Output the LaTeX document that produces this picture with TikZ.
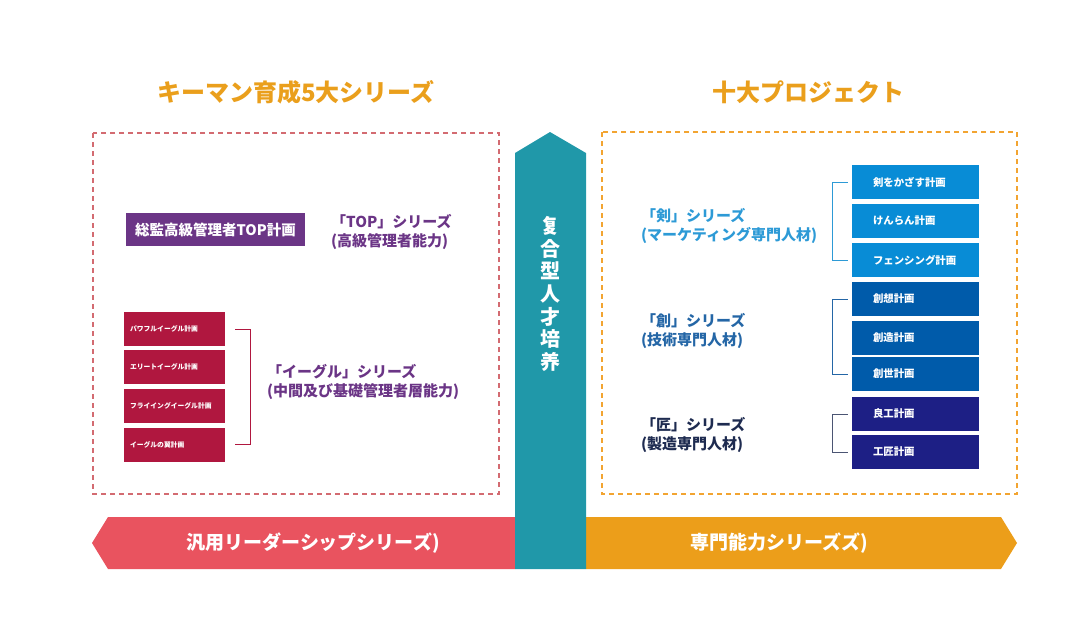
\documentclass[tikz,border=0pt]{standalone}
\usepackage{xcolor}
\usepackage{fontspec}
\setmainfont{Noto Sans CJK JP}
\usetikzlibrary{positioning,calc}

\definecolor{titleorange}{HTML}{EA9F1C}
\definecolor{dashred}{HTML}{D36B71}
\definecolor{dashorange}{HTML}{F2A431}
\definecolor{centerteal}{HTML}{2098A9}
\definecolor{bandred}{HTML}{E9535F}
\definecolor{bandorange}{HTML}{EC9E1A}
\definecolor{toppurple}{HTML}{6B3586}
\definecolor{eaglered}{HTML}{B0173F}
\definecolor{kenblue}{HTML}{088CD6}
\definecolor{kentext}{HTML}{2D9AD6}
\definecolor{soublue}{HTML}{005BAA}
\definecolor{soutext}{HTML}{2466A6}
\definecolor{takuminavy}{HTML}{1D1F85}
\definecolor{takumitext}{HTML}{1E2B50}

\begin{document}
\begin{tikzpicture}[x=1pt,y=-1pt,
    title/.style={font=\fontsize{24}{28}\selectfont\bfseries,text=titleorange},
    serieslabel/.style={anchor=west,inner sep=0pt,align=left,font=\fontsize{15}{19}\selectfont\bfseries},
    eaglebox/.style={fill=eaglered,text=white,minimum height=34pt,text width=89pt,inner xsep=6pt,align=left,font=\fontsize{6.8}{8}\selectfont\bfseries},
    planbox/.style={text=white,minimum height=34pt,text width=85pt,inner xsep=21pt,align=left,font=\fontsize{10.4}{12}\selectfont\bfseries},
    bandtext/.style={text=white,font=\fontsize{19}{22}\selectfont\bfseries}]
  \useasboundingbox (0,0) rectangle (1068,619);

  % titles
  \node[title] (keyman) at (296,92) {キーマン育成5大シリーズ};
  \node[title] (tenproj) at (808,92) {十大プロジェクト};

  % dashed frames
  \draw[dashred,line width=1.5pt,dash pattern=on 5pt off 4pt] (93,133) rectangle (499,494);
  \draw[dashorange,line width=1.5pt,dash pattern=on 5pt off 4pt] (602,132) rectangle (1017,494);

  % bands and centre arrow
  \fill[bandred] (515,517) -- (108,517) -- (92,543) -- (108,569) -- (515,569) -- cycle;
  \fill[bandorange] (586,517) -- (1001,517) -- (1017,543) -- (1001,569) -- (586,569) -- cycle;
  \fill[centerteal] (515,569) -- (515,153) -- (550,132) -- (586,153) -- (586,569) -- cycle;
  \node[text=white,align=center,font=\fontsize{20}{22.7}\selectfont\bfseries] (fukugo) at (550,294)
    {复\\合\\型\\人\\才\\培\\养};
  \node[bandtext] (leader) at (313,543) {汎用リーダーシップシリーズ)};
  \node[bandtext] (senmon) at (779,543) {専門能力シリーズズ)};

  % left side
  \node[fill=toppurple,text=white,minimum width=179pt,minimum height=33pt,font=\fontsize{14.5}{17}\selectfont\bfseries] (top) at (215.5,229.5) {総監高級管理者TOP計画};
  \node[serieslabel,text=toppurple] (toplabel) at (331,231.5) {「TOP」シリーズ\\(高級管理者能力)};

  \node[eaglebox] (e1) at (174.5,329) {パワフルイーグル計画};
  \node[eaglebox] (e2) at (174.5,367) {エリートイーグル計画};
  \node[eaglebox] (e3) at (174.5,406) {フライイングイーグル計画};
  \node[eaglebox] (e4) at (174.5,444.5) {イーグルの翼計画};
  \draw[eaglered,line width=1pt] ([xshift=10]e1.east) -| ([xshift=25]e4.east) -- ([xshift=10]e4.east);
  \node[serieslabel,text=toppurple] (eaglelabel) at (267,381.5) {「イーグル」シリーズ\\(中間及び基礎管理者層能力)};

  % right side
  \node[planbox,fill=kenblue] (k1) at (915.5,182) {剣をかざす計画};
  \node[planbox,fill=kenblue] (k2) at (915.5,221) {けんらん計画};
  \node[planbox,fill=kenblue] (k3) at (915.5,260) {フェンシング計画};
  \draw[kentext,line width=1pt] ([xshift=-4]k1.west) -| ([xshift=-19]k3.west) -- ([xshift=-4]k3.west);
  \node[serieslabel,text=kentext] (kenlabel) at (641,225.5) {「剣」シリーズ\\(マーケティング専門人材)};

  \node[planbox,fill=soublue] (s1) at (915.5,299) {創想計画};
  \node[planbox,fill=soublue] (s2) at (915.5,337.5) {創造計画};
  \node[planbox,fill=soublue] (s3) at (915.5,374) {創世計画};
  \draw[soutext,line width=1pt] ([xshift=-4]s1.west) -| ([xshift=-19]s3.west) -- ([xshift=-4]s3.west);
  \node[serieslabel,text=soutext] (soulabel) at (641,331) {「創」シリーズ\\(技術専門人材)};

  \node[planbox,fill=takuminavy] (t1) at (915.5,414) {良工計画};
  \node[planbox,fill=takuminavy] (t2) at (915.5,452) {工匠計画};
  \draw[takumitext!80,line width=1pt] ([xshift=-4]t1.west) -| ([xshift=-19]t2.west) -- ([xshift=-4]t2.west);
  \node[serieslabel,text=takumitext] (takumilabel) at (641,435) {「匠」シリーズ\\(製造専門人材)};
\end{tikzpicture}
\end{document}
